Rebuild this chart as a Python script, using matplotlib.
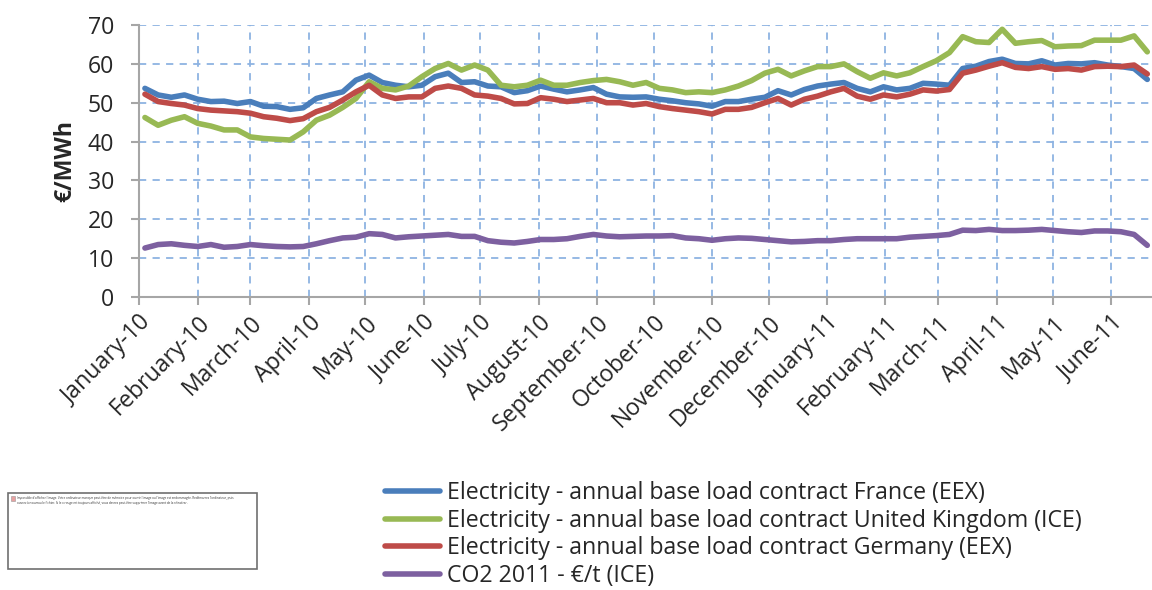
import numpy as np
import pandas as pd
import matplotlib
matplotlib.use("Agg")
import matplotlib.pyplot as plt
import matplotlib.dates as mdates
from matplotlib.patches import Rectangle
from datetime import datetime

plt.rcParams['font.family'] = ['Open Sans', 'DejaVu Sans']

# weekly readings, first Monday of January 2010 onwards
france = [53.7, 52.0, 51.4, 52.0, 50.9, 50.3, 50.4, 49.8, 50.3, 49.1, 49.0, 48.3, 48.7, 51.1, 52.0,
          52.8, 55.8, 57.1, 55.2, 54.5, 54.1, 54.5, 56.7, 57.6, 55.2, 55.4, 54.3, 54.1, 52.6, 53.1,
          54.3, 53.5, 52.8, 53.3, 53.9, 52.2, 51.5, 51.4, 51.5, 50.9, 50.5, 50.0, 49.7, 49.1, 50.3, 50.3,
          50.9, 51.4, 53.1, 52.0, 53.4, 54.3, 54.8, 55.2, 53.7, 52.8, 54.1, 53.3, 53.7, 55.0, 54.8,
          54.5, 58.8, 59.4, 60.6, 61.2, 60.1, 60.0, 60.8, 59.7, 60.1, 60.0, 60.3, 59.7, 59.3, 58.8, 56.0]
uk = [46.2, 44.2, 45.5, 46.4, 44.7, 44.0, 43.0, 43.0, 41.2, 40.8, 40.6, 40.4, 42.5, 45.5, 46.8,
      48.8, 51.1, 55.4, 53.7, 53.3, 54.3, 56.7, 58.8, 60.1, 58.4, 59.7, 58.4, 54.5, 54.1, 54.5,
      55.8, 54.5, 54.5, 55.2, 55.7, 56.0, 55.4, 54.5, 55.2, 53.7, 53.3, 52.6, 52.8, 52.6, 53.3, 54.3,
      55.7, 57.6, 58.6, 56.9, 58.2, 59.3, 59.3, 60.0, 58.0, 56.3, 57.7, 56.9, 57.7, 59.3, 60.8,
      62.9, 67.0, 65.7, 65.5, 68.9, 65.3, 65.7, 66.0, 64.4, 64.6, 64.7, 66.1, 66.1, 66.1, 67.2, 63.1]
germany = [52.2, 50.3, 49.8, 49.4, 48.5, 48.1, 47.9, 47.7, 47.3, 46.4, 46.0, 45.4, 45.9, 47.7, 48.8,
           50.7, 52.8, 54.5, 52.0, 51.1, 51.5, 51.5, 53.7, 54.3, 53.7, 52.0, 51.7, 51.1, 49.7, 49.8,
           51.3, 50.9, 50.3, 50.7, 51.1, 50.0, 50.0, 49.4, 49.8, 49.0, 48.5, 48.1, 47.7, 47.1, 48.3, 48.3,
           48.8, 50.0, 51.1, 49.4, 50.9, 51.7, 52.8, 53.7, 51.7, 50.9, 52.0, 51.5, 52.2, 53.3, 53.0,
           53.4, 57.6, 58.4, 59.4, 60.3, 59.1, 58.8, 59.3, 58.6, 58.8, 58.4, 59.3, 59.4, 59.3, 59.7, 57.4]
co2 = [12.6, 13.5, 13.7, 13.3, 13.0, 13.5, 12.8, 13.0, 13.5, 13.2, 13.0, 12.9, 13.0, 13.7, 14.5,
       15.2, 15.4, 16.3, 16.1, 15.2, 15.5, 15.7, 15.9, 16.1, 15.6, 15.6, 14.5, 14.1, 13.9, 14.3,
       14.8, 14.8, 15.0, 15.6, 16.1, 15.7, 15.5, 15.6, 15.7, 15.7, 15.8, 15.2, 15.0, 14.6, 15.0, 15.2,
       15.1, 14.8, 14.5, 14.2, 14.3, 14.5, 14.5, 14.8, 15.0, 15.0, 15.0, 15.0, 15.4, 15.6, 15.8,
       16.1, 17.2, 17.1, 17.4, 17.1, 17.1, 17.2, 17.4, 17.1, 16.8, 16.6, 17.0, 17.0, 16.8, 16.1, 13.3]

dates = pd.date_range('2010-01-04', periods=len(france), freq='7D')

labels = ["Electricity - annual base load contract France (EEX)",
          "Electricity - annual base load contract United Kingdom (ICE)",
          "Electricity - annual base load contract Germany (EEX)",
          "CO2 2011 - €/t (ICE)"]
colors = ['#4a7ebb', '#98b954', '#be4b48', '#7d60a0']

fs = 16.7

fig = plt.figure(figsize=(11.52, 5.9), dpi=100)
ax = fig.add_axes([0.1209, 0.4966, 0.8791, 0.461])

handles = []
for vals, lab, col in zip([france, uk, germany, co2], labels, colors):
    h, = ax.plot(dates, vals, color=col, lw=4, label=lab, solid_capstyle='round')
    handles.append(h)

ax.set_xlim(datetime(2010, 1, 1), datetime(2011, 6, 22, 12))
ax.set_ylim(0, 70)
ax.set_yticks(range(0, 71, 10))
ax.xaxis.set_major_locator(mdates.MonthLocator())
ax.xaxis.set_major_formatter(mdates.DateFormatter('%B-%y'))

ax.grid(True, color='#8db3e2', ls=(0, (4, 3.5)), lw=1.3)
ax.set_axisbelow(True)
for s in ['top', 'right']:
    ax.spines[s].set_visible(False)
for s in ['left', 'bottom']:
    ax.spines[s].set_color('#a6a6a6')
    ax.spines[s].set_linewidth(1.5)

ax.tick_params(axis='both', colors='#a6a6a6', length=6, width=1.5, labelsize=fs, labelcolor='#262626')
ax.tick_params(axis='y', pad=12)
ax.tick_params(axis='x', pad=4)
for t in ax.get_xticklabels():
    t.set_rotation(45)
    t.set_ha('right')
    t.set_va('top')
    t.set_rotation_mode('anchor')

ax.set_ylabel('€/MWh', fontsize=fs, fontweight='bold', color='#262626', labelpad=8)

fig.legend(handles=handles, loc='upper left', bbox_to_anchor=(0.334, 0.184),
           frameon=False, fontsize=fs, handlelength=2.37, handletextpad=0.3,
           labelspacing=0.15, borderpad=0, borderaxespad=0, labelcolor='#262626')

# placeholder box for the missing picture
fig.patches.append(Rectangle((8 / 1152, 21 / 590), 249 / 1152, 76 / 590, transform=fig.transFigure,
                             facecolor='white', edgecolor='#707070', lw=1.2))
fig.patches.append(Rectangle((11 / 1152, 89 / 590), 4 / 1152, 5 / 590, transform=fig.transFigure,
                             facecolor='#e8a0a0', edgecolor='#999999', lw=0.4))
fig.text(17 / 1152, 94 / 590,
         "Impossible d'afficher l'image. Votre ordinateur manque peut-être de mémoire pour ouvrir l'image ou l'image est endommagée. Redémarrez l'ordinateur, puis\n"
         "ouvrez à nouveau le fichier. Si le x rouge est toujours affiché, vous devrez peut-être supprimer l'image avant de la réinsérer.",
         fontsize=2.2, va='top', ha='left', color='#333333', linespacing=1.3)

fig.savefig('out.png', dpi=100)
